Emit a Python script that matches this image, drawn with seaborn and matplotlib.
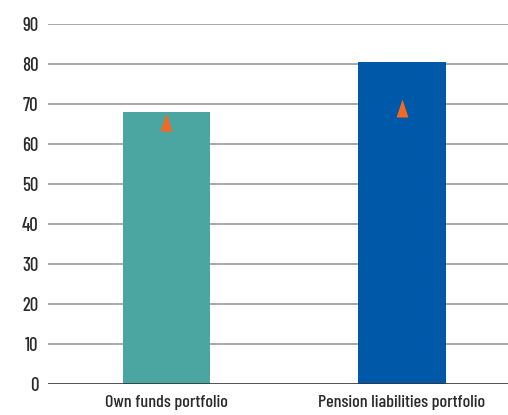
import matplotlib
matplotlib.use("Agg")
import matplotlib.pyplot as plt
import seaborn as sns
import pandas as pd

categories = ["Own funds portfolio", "Pension liabilities portfolio"]
bar_values = [68, 80.5]
marker_values = [65.5, 69]
bar_colors = ["#4BA5A0", "#0058A8"]
yticks = [0, 10, 20, 30, 40, 50, 60, 70, 80, 90]

sns.set_theme(style="white")
plt.rcParams["font.family"] = ["Barlow Condensed", "DejaVu Sans"]
plt.rcParams["font.weight"] = "medium"

df = pd.DataFrame({"cat": categories, "val": bar_values})
mdf = pd.DataFrame({"cat": categories, "val": marker_values})

fig = plt.figure(figsize=(5.08, 4.15), dpi=100)
ax = fig.add_axes([48 / 508, 31 / 415, 460 / 508, 360 / 415])

for y in yticks[1:]:
    ax.axhline(y, color="#A8A8A8", lw=1.4, zorder=0)

sns.barplot(data=df, x="cat", y="val", hue="cat", palette=bar_colors,
            width=0.37, legend=False, ax=ax, zorder=2, saturation=1,
            linewidth=0, edgecolor="none")

tri = [(-0.33, -0.5), (0.33, -0.5), (0, 0.5)]
sns.stripplot(data=mdf, x="cat", y="val", jitter=False, marker=tri, s=13,
              color="#F26A21", linewidth=0, ax=ax, zorder=3)

ax.axhline(0, color="#333333", lw=1.2, zorder=4)
ax.set_ylim(0, 90)
ax.set_xlim(-0.503, 1.45)
ax.set_yticks(yticks)
ax.set_yticklabels([str(v) for v in yticks])
ax.set_xlabel("")
ax.set_ylabel("")
for s in ax.spines.values():
    s.set_visible(False)
ax.tick_params(axis="y", length=0, pad=7, labelsize=13.5, colors="#2a2a2a")
ax.tick_params(axis="x", length=0, pad=8, labelsize=13, colors="#2a2a2a")

fig.savefig("out.png", dpi=100)
